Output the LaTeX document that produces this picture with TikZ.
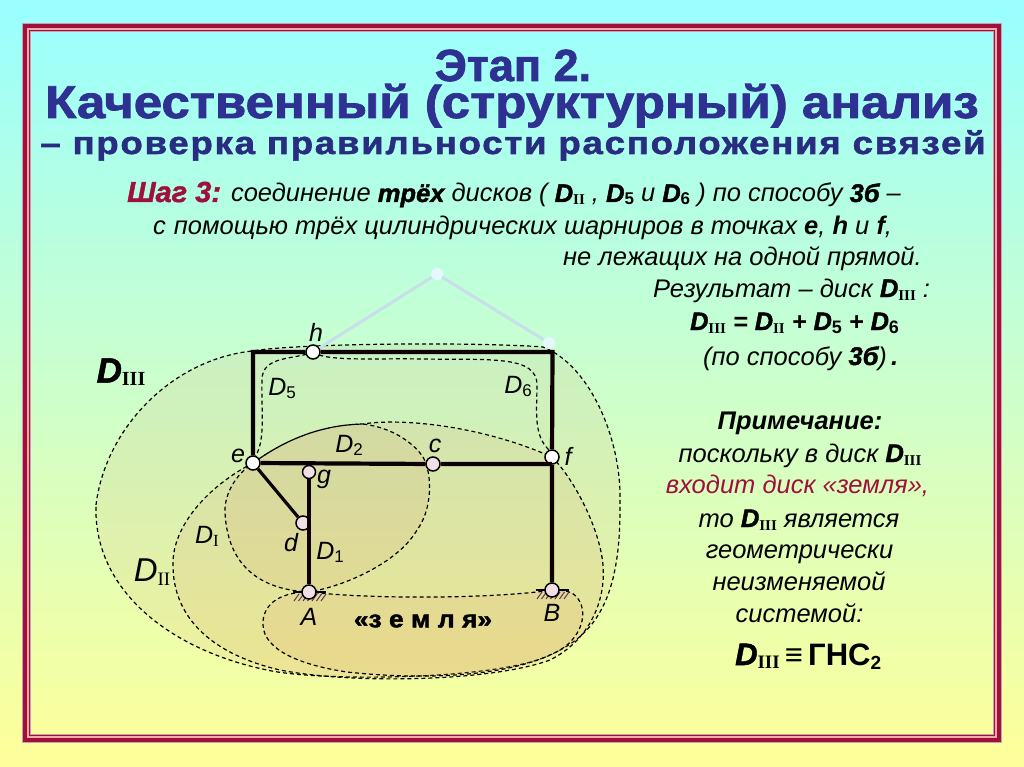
\documentclass[tikz,border=0pt]{standalone}
\usepackage{fontspec}
\setmainfont{Liberation Sans}
\newfontfamily\serfont{Liberation Serif}
\newfontfamily\heavyfont[FakeBold=1.6]{Liberation Sans}
\newfontfamily\spacedfont[FakeBold=1.6,LetterSpace=5]{Liberation Sans}
\newcommand{\fsz}[1]{\fontsize{#1}{#1}\selectfont}
\newcommand{\rom}[2][15]{\raisebox{-3pt}{\serfont\fsz{#1}\upshape\bfseries #2}}
\newcommand{\nm}[2][17]{\raisebox{-3pt}{\fsz{#1}\upshape #2}}
\newcommand{\hvy}[1]{{\heavyfont\bfseries\itshape #1}}
\definecolor{framered}{RGB}{160,16,60}
\definecolor{titleblue}{RGB}{46,49,146}
\definecolor{navy}{RGB}{40,45,130}
\definecolor{tan}{RGB}{215,135,85}
\tikzset{
  region/.style={draw=black,line width=1.2pt,dash pattern=on 4pt off 3pt,fill=tan,fill opacity=.11},
  beam/.style={line width=4.2pt,black!95!red},
  rod/.style={line width=3.2pt,black!95!red},
  ghost/.style={line width=3pt,color={rgb,255:red,200;green,222;blue,232}},
  joint/.style={circle,draw=black,line width=1.5pt,fill=white,minimum size=14pt,inner sep=0pt},
  pinkjoint/.style={joint,fill={rgb,255:red,240;green,224;blue,230}},
  ghostjoint/.style={circle,fill=white!90!cyan,minimum size=12pt,inner sep=0pt},
  txt/.style={inner sep=0pt,anchor=base,font=\fsz{25.5}\itshape},
  lbl/.style={inner sep=0pt,font=\fsz{25}\itshape},
}
\begin{document}
\begin{tikzpicture}[x=1pt,y=-1pt]
  \useasboundingbox (0,0) rectangle (1024,767);
  \shade[top color={rgb,255:red,153;green,255;blue,255},bottom color={rgb,255:red,255;green,255;blue,153}] (0,0) rectangle (1024,767);
  % border
  \draw[line width=8.6pt,color={rgb,255:red,200;green,160;blue,175}] (26.3,27.3) rectangle (997.7,738.7);
  \draw[line width=7pt,framered] (26.3,27.3) rectangle (997.7,738.7);
  \draw[line width=1.5pt,color={rgb,255:red,245;green,170;blue,170}] (27.8,28.8) rectangle (996.2,737.2);
  % title
  \node[inner sep=0pt,anchor=base,text=titleblue,font=\fsz{45}\heavyfont\bfseries] (title1) at (513,81) {Этап 2.};
  \node[inner sep=0pt,anchor=base,text=titleblue,font=\fsz{46}\heavyfont\bfseries] (title2) at (512,118) {\scalebox{1.11}[1]{Качественный (структурный) анализ}};
  \node[inner sep=0pt,anchor=base,text=navy,font=\fsz{32}\spacedfont\bfseries] (title3) at (513,154) {\scalebox{1.14}[1]{– проверка правильности расположения связей}};
  % step text
  \node[txt,anchor=base west] (line1) at (127,202) {{\color{framered}\heavyfont\bfseries\fsz{29}Шаг 3:}\hspace{10pt}соединение \hvy{трёх} дисков ( \hvy{D}\rom{II} , \hvy{D}\nm{\textbf{5}} и \hvy{D}\nm{\textbf{6}} ) по способу \hvy{3б} –};
  \node[txt,anchor=base west] (line2) at (153,235) {с\hspace{8pt}помощью трёх цилиндрических шарниров в точках \textbf{e}, \textbf{h} и \textbf{f},};
  \node[txt,anchor=base west] (line3) at (563,265) {не лежащих на одной прямой.};
  \node[txt,anchor=base west] (line4) at (653,297) {Результат – диск \hvy{D}\rom{III} :};
  \node[txt,anchor=base west,font=\fsz{25.3}\itshape\bfseries] (line5) at (690,330) {\hvy{D}\rom{III} = \hvy{D}\rom{II} + \hvy{D}\nm[18]{\textbf{5}} + \hvy{D}\nm[18]{\textbf{6}}};
  \node[txt,anchor=base west] (line6) at (703,365) {(по способу \hvy{3б})\textbf{\,.}};
  % note
  \node[txt,font=\fsz{25.5}\itshape\bfseries] (note0) at (800,429) {Примечание:};
  \node[txt] (note1) at (800,462) {поскольку в диск \hvy{D}\rom{III}};
  \node[txt,text=framered] (note2) at (797.5,493) {входит диск «земля»,};
  \node[txt] (note3) at (799,527) {то \hvy{D}\rom{III} является};
  \node[txt] (note4) at (799.5,558) {геометрически};
  \node[txt] (note5) at (799,590) {неизменяемой};
  \node[txt] (note6) at (799.5,622) {системой:};
  \node[txt,anchor=base west,font=\fsz{31}\bfseries] (note7) at (735,665) {\hvy{D}\rom[19]{III}\,{\fsz{31}\mdseries≡}\,ГНС\raisebox{-4pt}{\fsz{19}2}};
  % discs
  \path[region] (96,505) .. controls (105,430) and (170,360) .. (252,351) .. controls (300,343) and (480,342) .. (543,347) .. controls (590,365) and (622,440) .. (620,503) .. controls (621,600) and (595,635) .. (550,655) .. controls (500,680) and (320,682) .. (267,670) .. controls (170,650) and (93,590) .. (96,505) -- cycle;
  \path[region] (253,463) .. controls (210,485) and (172,525) .. (173,565) .. controls (173,620) and (215,655) .. (280,670) .. controls (350,684) and (490,682) .. (550,660) .. controls (590,640) and (606,600) .. (603,565) .. controls (600,530) and (575,480) .. (552,457) .. controls (480,425) and (400,418) .. (363,424) .. controls (320,425) and (285,440) .. (253,463) -- cycle;
  \path[region] (253,463) .. controls (285,440) and (320,425) .. (363,424) .. controls (395,428) and (415,445) .. (423,457) .. controls (433,475) and (432,510) .. (417,530) .. controls (400,560) and (350,585) .. (309,592) .. controls (265,590) and (228,570) .. (225,513) .. controls (224,495) and (235,475) .. (253,463) -- cycle;
  \path[region] (309,592) .. controls (275,592) and (262,608) .. (263,625) .. controls (264,650) and (300,665) .. (347,672) .. controls (420,680) and (510,678) .. (560,650) .. controls (585,635) and (590,605) .. (572,593) .. controls (565,590) and (558,590) .. (552,590) .. controls (500,598) and (380,600) .. (309,592) -- cycle;
  \draw[region,fill=none] (313,352) .. controls (295,360) and (262,355) .. (262,380) .. controls (261,410) and (266,440) .. (255,457);
  \draw[region,fill=none] (313,352) .. controls (325,362) and (380,358) .. (420,359) .. controls (490,360) and (537,355) .. (537,385) .. controls (537,410) and (533,435) .. (549,450);
  % frame
  \coordinate (k1) at (253,352);
  \coordinate (k2) at (552.5,352);
  \coordinate (k3) at (552,464);
  % supports
  \coordinate (supA) at (309,592);
  \coordinate (supB) at (552,590);
  \foreach \n in {supA,supB} {
    \draw[line width=2.5pt] ([xshift=-16.5pt]\n) -- ([xshift=16.5pt]\n);
    \foreach \d in {-15,-10.5,...,12} \draw[line width=1pt,color={rgb,255:red,90;green,50;blue,90}] ([xshift=\d pt,yshift=-9pt]\n) -- ([xshift={\d pt+5pt},yshift=-2pt]\n);
  }
  % ghost links
  \node[ghostjoint] (top) at (437,274) {};
  \node[ghostjoint] (right) at (549,343) {};
  \node[joint] (h) at (313,352) {};
  \draw[ghost] (h) -- (top) -- (right);
  % joints
  \node[joint] (e) at (253,463) {};
  \node[joint] (f) at (552,457) {};
  \node[pinkjoint] (c) at (433,464) {};
  \node[pinkjoint,minimum size=13pt] (g) at (309,472) {};
  \node[pinkjoint] (d) at (303,523) {};
  \node[pinkjoint] (A) at (309,592) {};
  \node[pinkjoint] (B) at (552,590) {};
  \draw[beam] (e) -- (k1) -- (h) -- (k2) -- (f) -- (B);
  \draw[beam] (e) -- (c) -- (k3);
  \draw[beam] (g) -- (A);
  \draw[rod] (e) -- (d);
  % labels
  \node[lbl] (lh) at (316,332) {h};
  \node[lbl] (le) at (238,456) {e};
  \node[lbl] (lc) at (435,446) {c};
  \node[lbl] (lf) at (568,456) {f};
  \node[lbl] (lg) at (324,479) {g};
  \node[lbl] (ld) at (291,543) {d};
  \node[lbl] (lA) at (309,617) {A};
  \node[lbl] (lB) at (552,613) {B};
  \node[lbl] (lD5) at (282,388) {D\nm{5}};
  \node[lbl] (lD6) at (518,386) {D\nm{6}};
  \node[lbl] (lD2) at (349,445) {D\nm{2}};
  \node[lbl] (lD1) at (330,552) {D\nm{1}};
  \node[lbl] (lDI) at (207,536) {D\raisebox{-3pt}{\serfont\fsz{17}\upshape I}};
  \node[lbl,font=\fsz{33}\itshape] (lDII) at (152,572) {D\raisebox{-4pt}{\serfont\fsz{19}\upshape II}};
  \node[lbl,font=\fsz{35}\itshape\bfseries] (lDIII) at (121,372) {\hvy{D}\rom[20]{III}};
  \node[inner sep=0pt,font=\fsz{24}\heavyfont\bfseries] (earth) at (423,621) {\scalebox{1.1}[1]{«з е м л я»}};
\end{tikzpicture}
\end{document}
